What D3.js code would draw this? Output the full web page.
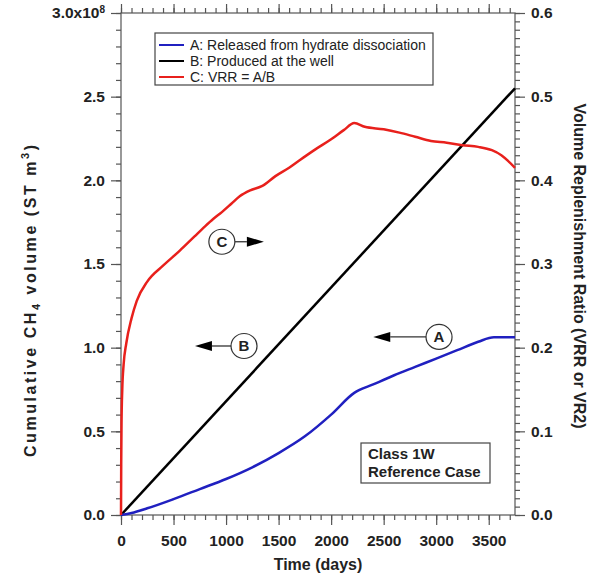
<!DOCTYPE html>
<html><head><meta charset="utf-8">
<script src="https://cdn.jsdelivr.net/npm/d3@7"></script>
<style>
body{margin:0;background:#fff;}
svg{display:block;font-family:"Liberation Sans",Arial,sans-serif;}
</style></head>
<body><svg id="c" width="595" height="577"></svg>
<script>
// ---- data ----
const daysA = [0, 100, 250, 500, 750, 1000, 1250, 1500, 1750, 2000, 2220, 2400, 2600, 2800, 3000, 3200, 3400, 3550, 3750];
const volA  = [0, 0.012, 0.04, 0.095, 0.155, 0.215, 0.285, 0.37, 0.47, 0.6, 0.73, 0.78, 0.835, 0.885, 0.935, 0.985, 1.035, 1.062, 1.062];
const daysB = [0, 3750];
const volB  = [0, 2.55];
const daysC = [0, 2, 5, 12, 25, 50, 100, 150, 250, 400, 560, 700, 800, 880, 960, 1050, 1130, 1230, 1340, 1470, 1600, 1700, 1850, 2000, 2120, 2220, 2320, 2500, 2650, 2800, 2950, 3100, 3250, 3400, 3530, 3620, 3750];
const vrrC  = [0, 0.06, 0.11, 0.15, 0.18, 0.205, 0.235, 0.256, 0.279, 0.298, 0.316, 0.333, 0.345, 0.354, 0.362, 0.372, 0.381, 0.388, 0.393, 0.405, 0.415, 0.424, 0.437, 0.449, 0.46, 0.4685, 0.464, 0.461, 0.457, 0.452, 0.447, 0.445, 0.442, 0.44, 0.436, 0.43, 0.415];
const xTicks = [0, 500, 1000, 1500, 2000, 2500, 3000, 3500];
const yLeftTicks = [0, 0.5, 1.0, 1.5, 2.0, 2.5, 3.0];
const yRightTicks = [0, 0.1, 0.2, 0.3, 0.4, 0.5, 0.6];
const legendLabels = ["A: Released from hydrate dissociation", "B: Produced at the well", "C: VRR = A/B"];
const seriesColors = ["#2020c0", "#000000", "#e8201c"];
// annotation anchors (days, 1e8 m3 on left axis) and arrow tips (days)
const annLabels = ["C", "B", "A"];
const annDays   = [960, 1171, 3027];
const annVols   = [1.633, 1.01, 1.064];
const annTips   = [1360, 704, 2401];

// ---- scales ----
const svg = d3.select("#c");
const L = 121, R = 515, T = 13, B = 515;
const x = d3.scaleLinear().domain([0, 3750]).range([L, R]);
const yL = d3.scaleLinear().domain([0, 3.0]).range([B, T]);
const yR = d3.scaleLinear().domain([0, 0.6]).range([B, T]);

const axisColor = "#555";
function styleAxis(g){
  g.select(".domain").remove();
  g.selectAll("line").attr("stroke", axisColor).attr("stroke-width", 1.2);
  g.selectAll("text").attr("fill", "#222").attr("font-size", "15.5px").attr("font-weight", "bold");
}
// minor axes
svg.append("g").attr("transform", `translate(0,${B})`)
  .call(d3.axisBottom(x).tickValues(d3.range(0, 3751, 100)).tickSize(5).tickFormat(""))
  .call(styleAxis);
svg.append("g").attr("transform", `translate(0,${T})`)
  .call(d3.axisTop(x).tickValues(d3.range(0, 3751, 100)).tickSize(5).tickFormat(""))
  .call(styleAxis);
svg.append("g").attr("transform", `translate(${L},0)`)
  .call(d3.axisLeft(yL).tickValues(d3.range(0, 3.001, 0.1)).tickSize(5).tickFormat(""))
  .call(styleAxis);
svg.append("g").attr("transform", `translate(${R},0)`)
  .call(d3.axisRight(yR).tickValues(d3.range(0, 0.6001, 0.01)).tickSize(5).tickFormat(""))
  .call(styleAxis);
// major axes
svg.append("g").attr("transform", `translate(0,${B})`)
  .call(d3.axisBottom(x).tickValues(xTicks).tickSize(10).tickPadding(10).tickFormat(d3.format("d")))
  .call(styleAxis);
svg.append("g").attr("transform", `translate(0,${T})`)
  .call(d3.axisTop(x).tickValues(xTicks).tickSize(9).tickFormat(""))
  .call(styleAxis);
const gl = svg.append("g").attr("transform", `translate(${L},0)`)
  .call(d3.axisLeft(yL).tickValues(yLeftTicks).tickSize(10).tickPadding(6).tickFormat(d3.format(".1f")))
  .call(styleAxis);
gl.selectAll(".tick text").filter(d => d === 3.0).each(function(){
  const t = d3.select(this); t.text("");
  t.append("tspan").text("3.0x10");
  t.append("tspan").attr("dy", "-0.55em").attr("font-size", "10px").text("8");
});
svg.append("g").attr("transform", `translate(${R},0)`)
  .call(d3.axisRight(yR).tickValues(yRightTicks).tickSize(10).tickPadding(6).tickFormat(d3.format(".1f")))
  .call(styleAxis);

// frame
svg.append("rect").attr("x", L).attr("y", T).attr("width", R - L).attr("height", B - T)
  .attr("fill", "none").attr("stroke", axisColor).attr("stroke-width", 1.2);

// ---- series ----
const lineL = d3.line().x(d => x(d[0])).y(d => yL(d[1])).curve(d3.curveMonotoneX);
const lineR = d3.line().x(d => x(d[0])).y(d => yR(d[1])).curve(d3.curveMonotoneX);
svg.append("path").datum(daysB.map((d, i) => [d, volB[i]])).attr("d", lineL)
  .attr("fill", "none").attr("stroke", seriesColors[1]).attr("stroke-width", 2.5);
svg.append("path").datum(daysA.map((d, i) => [d, volA[i]])).attr("d", lineL)
  .attr("fill", "none").attr("stroke", seriesColors[0]).attr("stroke-width", 2.5);
svg.append("path").datum(daysC.map((d, i) => [d, vrrC[i]])).attr("d", lineR)
  .attr("fill", "none").attr("stroke", seriesColors[2]).attr("stroke-width", 2.5);

// ---- axis titles ----
svg.append("text").attr("x", (L + R) / 2).attr("y", 570).attr("text-anchor", "middle")
  .attr("font-size", "16px").attr("font-weight", "bold").attr("fill", "#222").text("Time (days)");
const lt = svg.append("text").attr("transform", "translate(36,301) rotate(-90)")
  .attr("text-anchor", "middle").attr("font-size", "16px").attr("font-weight", "bold").attr("fill", "#222")
  .attr("textLength", 312).attr("lengthAdjust", "spacing");
lt.append("tspan").text("Cumulative CH");
lt.append("tspan").attr("font-size", "11px").attr("dy", "4").text("4");
lt.append("tspan").attr("dy", "-4").text(" volume (ST m");
lt.append("tspan").attr("font-size", "11px").attr("dy", "-7").text("3");
lt.append("tspan").attr("dy", "7").text(")");
svg.append("text").attr("transform", "translate(574,266) rotate(90)")
  .attr("text-anchor", "middle").attr("font-size", "16px").attr("font-weight", "bold").attr("fill", "#222")
  .text("Volume Replenishment Ratio (VRR or VR2)");

// ---- legend ----
const lg = svg.append("g");
lg.append("rect").attr("x", 155).attr("y", 33).attr("width", 278).attr("height", 52)
  .attr("fill", "#fff").attr("stroke", "#444").attr("stroke-width", 1.2);
legendLabels.forEach((lab, i) => {
  const yy = 45 + i * 16;
  lg.append("line").attr("x1", 159).attr("x2", 184).attr("y1", yy).attr("y2", yy)
    .attr("stroke", seriesColors[i]).attr("stroke-width", 2);
  lg.append("text").attr("x", 190).attr("y", yy + 5).attr("font-size", "14px").attr("fill", "#222").text(lab);
});

// ---- annotations ----
annLabels.forEach((lab, i) => {
  const cx = x(annDays[i]), cy = yL(annVols[i]), r = 13;
  const tip = x(annTips[i]);
  const dir = tip > cx ? 1 : -1;
  const start = cx + dir * r;
  const headLen = 17, hw = 5;
  svg.append("line").attr("x1", start).attr("x2", tip - dir * headLen).attr("y1", cy).attr("y2", cy)
    .attr("stroke", "#333").attr("stroke-width", 1.3);
  svg.append("path").attr("d", `M${tip},${cy} L${tip - dir * headLen},${cy - hw} L${tip - dir * headLen},${cy + hw} Z`)
    .attr("fill", "#000");
  svg.append("ellipse").attr("cx", cx).attr("cy", cy).attr("rx", r).attr("ry", r - 0.5)
    .attr("fill", "#fff").attr("stroke", "#333").attr("stroke-width", 1.2);
  svg.append("text").attr("x", cx).attr("y", cy + 5.5).attr("text-anchor", "middle")
    .attr("font-size", "15px").attr("font-weight", "bold").attr("fill", "#222").text(lab);
});

// ---- case box ----
svg.append("rect").attr("x", 361).attr("y", 443).attr("width", 129).attr("height", 40)
  .attr("fill", "#fff").attr("stroke", "#444").attr("stroke-width", 1.2);
svg.append("text").attr("x", 368).attr("y", 459).attr("font-size", "15px").attr("font-weight", "bold").attr("fill", "#222").text("Class 1W");
svg.append("text").attr("x", 368).attr("y", 477).attr("font-size", "15px").attr("font-weight", "bold").attr("fill", "#222").text("Reference Case");
</script></body></html>
